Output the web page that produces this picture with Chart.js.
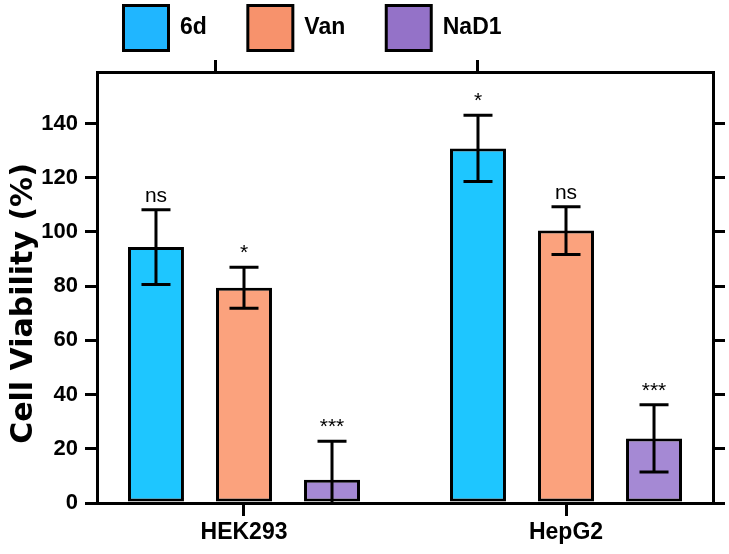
<!DOCTYPE html>
<html>
<head>
<meta charset="utf-8">
<script src="https://cdn.jsdelivr.net/npm/chart.js@4.4.1/dist/chart.umd.min.js"></script>
<style>
  html, body { margin: 0; padding: 0; background: #fff; }
  #wrap { width: 729px; height: 554px; }
</style>
</head>
<body>
<div id="wrap"><canvas id="grafico"></canvas></div>
<script>
// Datos
const groups = ["HEK293", "HepG2"];
const seriesNames = ["6d", "Van", "NaD1"];
const mean6d = [94.4, 130.8];
const err6d = [13.8, 12.2];
const meanVan = [79.4, 100.5];
const errVan = [7.6, 8.8];
const meanNaD1 = [8.6, 23.8];
const errNaD1 = [14.2, 12.4];
const sig6d = ["ns", "*"];
const sigVan = ["*", "ns"];
const sigNaD1 = ["***", "***"];
const yTicks = [0, 20, 40, 60, 80, 100, 120, 140];
const yTitle = "Cell Viability (%)";

const means = [mean6d, meanVan, meanNaD1];
const errs = [err6d, errVan, errNaD1];
const sigs = [sig6d, sigVan, sigNaD1];

const barColors = ["#1EC6FF", "#FBA27D", "#A589D4"];
const legendColors = ["#20B6FF", "#F7926C", "#9472C8"];
const FONT = 'Arial, "Liberation Sans", sans-serif';

Chart.defaults.font.family = FONT;
Chart.defaults.color = "#000";

// Barras de error y marcas de significancia
const errorBars = {
    id: "errorBars",
    afterDatasetsDraw(chart) {
        const ctx = chart.ctx;
        const y = chart.scales.y;
        const a = chart.chartArea;
        chart.data.datasets.forEach((ds, d) => {
            const meta = chart.getDatasetMeta(d);
            meta.data.forEach((bar, i) => {
                const m = means[d][i], e = errs[d][i];
                const yt = y.getPixelForValue(m + e);
                const yb = y.getPixelForValue(m - e);
                ctx.save();
                ctx.beginPath();
                ctx.rect(a.left, a.top, a.width, a.height);
                ctx.clip();
                ctx.strokeStyle = "#000";
                ctx.lineWidth = 3;
                ctx.beginPath();
                ctx.moveTo(bar.x, yt);
                ctx.lineTo(bar.x, yb);
                ctx.moveTo(bar.x - 14.5, yt);
                ctx.lineTo(bar.x + 14.5, yt);
                ctx.moveTo(bar.x - 14.5, yb);
                ctx.lineTo(bar.x + 14.5, yb);
                ctx.stroke();
                ctx.restore();

                ctx.save();
                ctx.fillStyle = "#000";
                ctx.textAlign = "center";
                ctx.textBaseline = "alphabetic";
                ctx.font = "21px " + FONT;
                ctx.fillText(sigs[d][i], bar.x, yt - 8);
                ctx.restore();
            });
        });
    }
};

// Titulo del eje Y (un poco por debajo del centro, como en la figura)
const yAxisTitle = {
    id: "yAxisTitle",
    afterDraw(chart) {
        const ctx = chart.ctx;
        const a = chart.chartArea;
        ctx.save();
        ctx.translate(24, (a.top + a.bottom) / 2 + 16);
        ctx.rotate(-Math.PI / 2);
        ctx.fillStyle = "#000";
        ctx.textAlign = "center";
        ctx.textBaseline = "middle";
        ctx.font = 'bold 30px "DejaVu Sans", ' + FONT;
        ctx.fillText(yTitle, 0, 0);
        ctx.restore();
    }
};

// Mover la leyenda a su sitio
const legendShift = {
    id: "legendShift",
    afterLayout(chart) {
        chart.legend.left = 82.5;
        chart.legend.top = -35.5;
    }
};

const datasets = seriesNames.map((name, d) => ({
    label: name,
    data: groups.map((g, i) => ({ x: i, y: means[d][i] })),
    backgroundColor: barColors[d],
    borderColor: "#000",
    borderWidth: 3,
    borderSkipped: false,
    categoryPercentage: 0.82,
    barPercentage: 0.636
}));

const axisBorder = { color: "#000", width: 3 };

new Chart(document.getElementById("grafico"), {
    type: "bar",
    data: { datasets: datasets },
    options: {
        responsive: true,
        maintainAspectRatio: false,
        animation: false,
        layout: { padding: 0 },
        plugins: {
            tooltip: { enabled: false },
            legend: {
                position: "top",
                align: "start",
                maxHeight: 60,
                labels: {
                    boxWidth: 45,
                    boxHeight: 45,
                    padding: 41,
                    color: "#000",
                    font: { size: 23, weight: "bold" },
                    generateLabels(chart) {
                        const items = Chart.defaults.plugins.legend.labels.generateLabels(chart);
                        items.forEach((it, i) => {
                            it.fillStyle = legendColors[i];
                            it.strokeStyle = "#000";
                            it.lineWidth = 3;
                        });
                        return items;
                    }
                }
            }
        },
        scales: {
            x: {
                type: "linear",
                position: "bottom",
                min: -0.4565,
                max: 1.4565,
                offset: false,
                afterBuildTicks: s => { s.ticks = groups.map((g, i) => ({ value: i })); },
                afterFit: s => { s.height = 51; },
                border: axisBorder,
                grid: { offset: false, drawOnChartArea: false, color: "#000", lineWidth: 3, tickLength: 13 },
                ticks: {
                    color: "#000",
                    padding: 3,
                    autoSkip: false,
                    font: { size: 23, weight: "bold" },
                    callback: v => groups[v] ?? ""
                }
            },
            x2: {
                type: "linear",
                position: "top",
                min: -0.4565,
                max: 1.4565,
                offset: false,
                afterBuildTicks: s => { s.ticks = [{ value: -0.09 }, { value: 0.7267 }]; },
                afterFit: s => { s.height = 12; },
                border: axisBorder,
                grid: { drawOnChartArea: false, offset: false, color: "#000", lineWidth: 3, tickLength: 12 },
                ticks: { display: false }
            },
            y: {
                position: "left",
                min: 0,
                max: 159,
                afterBuildTicks: s => { s.ticks = yTicks.map(v => ({ value: v })); },
                afterFit: s => { s.width = 97; },
                border: axisBorder,
                grid: { drawOnChartArea: false, color: "#000", lineWidth: 3, tickLength: 12 },
                ticks: { color: "#000", padding: 7, font: { size: 22, weight: "bold" } }
            },
            y2: {
                position: "right",
                min: 0,
                max: 159,
                afterBuildTicks: s => { s.ticks = yTicks.map(v => ({ value: v })); },
                afterFit: s => { s.width = 16; },
                border: axisBorder,
                grid: { drawOnChartArea: false, color: "#000", lineWidth: 3, tickLength: 12 },
                ticks: { display: false }
            }
        }
    },
    plugins: [errorBars, yAxisTitle, legendShift]
});
</script>
</body>
</html>
